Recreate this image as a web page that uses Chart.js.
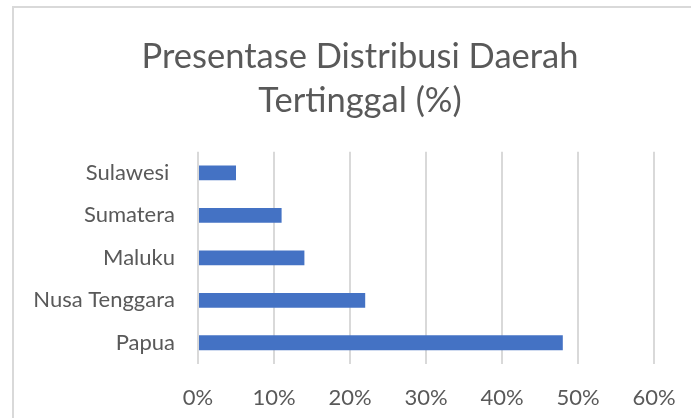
<!DOCTYPE html>
<html>
<head>
  <script src="https://cdn.jsdelivr.net/npm/chart.js"></script>
  <style>
    html, body { margin: 0; padding: 0; background: #fff; overflow: hidden; }
    #box {
      position: absolute; left: 12px; top: 6px;
      width: 700px; height: 420px;
      border-left: 2px solid #d9d9d9; border-top: 2px solid #d9d9d9;
    }
    #box canvas { display: block; }
  </style>
</head>
<body>
  <div id="box">
    <canvas id="chart" width="692" height="412"></canvas>
  </div>
  <script>
// data
const regions = ['Sulawesi ', 'Sumatera', 'Maluku', 'Nusa Tenggara', 'Papua'];
const percent = [5, 11, 14, 22, 48];
const xTicks = [0, 10, 20, 30, 40, 50, 60];

const grey = '#595959';
const font = 'Lato, "Open Sans", sans-serif';

const ctx = document.getElementById('chart').getContext('2d');
new Chart(ctx, {
  type: 'bar',
  data: {
    labels: regions,
    datasets: [{
      data: percent,
      backgroundColor: '#4472c4',
      barPercentage: 0.35,
      categoryPercentage: 1
    }]
  },
  options: {
    indexAxis: 'y',
    responsive: false,
    animation: false,
    layout: { padding: 0 },
    plugins: {
      legend: { display: false },
      tooltip: { enabled: false },
      title: {
        display: true,
        text: ['Presentase Distribusi Daerah', 'Tertinggal (%)'],
        color: grey,
        font: { family: font, size: 34.5, weight: 'normal', lineHeight: 1.3 },
        padding: { top: 26, bottom: 28 }
      }
    },
    scales: {
      x: {
        min: 0,
        max: 60,
        afterBuildTicks: s => { s.ticks = xTicks.map(v => ({ value: v })); },
        afterFit: s => { s.height = 56; },
        ticks: {
          callback: v => v + '%',
          color: grey,
          padding: 21,
          font: { family: font, size: 22 }
        },
        grid: { color: '#d9d9d9', lineWidth: 2, drawTicks: false },
        border: { display: false }
      },
      y: {
        afterFit: s => { s.width = 184; },
        ticks: {
          color: grey,
          padding: 23,
          font: { family: font, size: 22 }
        },
        grid: { display: false, drawTicks: false },
        border: { display: false }
      },
      // empty strip on the right so the plot ends at the 60% line
      yRight: {
        type: 'category',
        position: 'right',
        labels: [],
        afterFit: s => { s.width = 52; },
        ticks: { display: false },
        grid: { display: false, drawTicks: false },
        border: { display: false }
      }
    }
  }
});
  </script>
</body>
</html>
